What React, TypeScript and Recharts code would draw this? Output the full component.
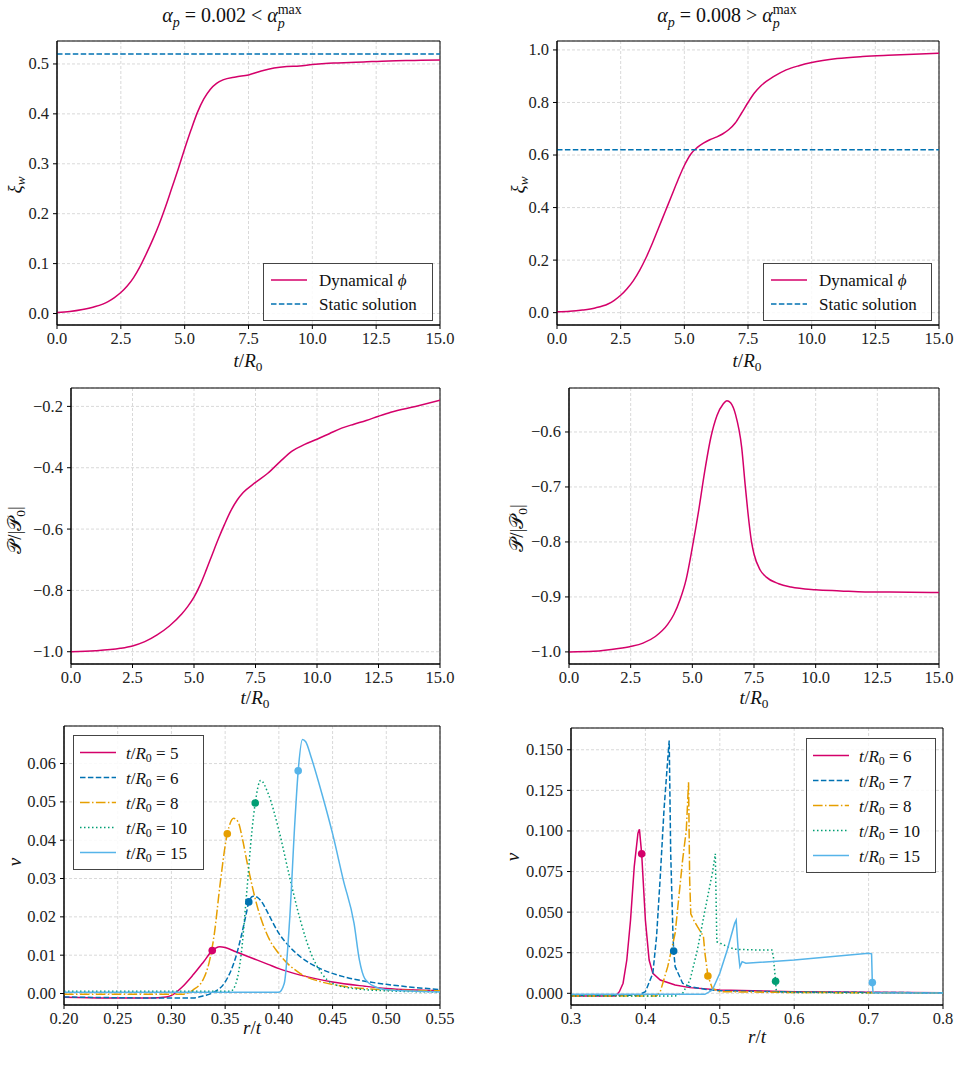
import React from 'react'
import { LineChart, Line, XAxis, YAxis, CartesianGrid, ReferenceArea, ReferenceDot } from 'recharts'

type Pt = [number, number]

// wall velocity xi_w(t), alpha_p = 0.002
const xiLow: Pt[] = [
  [0, 0.002], [0.5, 0.004], [1, 0.008], [1.5, 0.014], [2, 0.024], [2.25, 0.032], [2.5, 0.042],
  [2.75, 0.055], [3, 0.072], [3.25, 0.094], [3.5, 0.12], [3.75, 0.148], [4, 0.179],
  [4.25, 0.214], [4.5, 0.252], [4.75, 0.29], [5, 0.33], [5.25, 0.368], [5.5, 0.403],
  [5.75, 0.43], [6, 0.449], [6.25, 0.461], [6.5, 0.468], [7, 0.474], [7.5, 0.478],
  [8, 0.486], [8.5, 0.492], [9, 0.495], [9.5, 0.496], [10, 0.499], [10.5, 0.501],
  [11, 0.502], [12, 0.504], [13, 0.506], [14, 0.507], [15, 0.508],
]
const xiLowStatic = 0.52

// wall velocity xi_w(t), alpha_p = 0.008
const xiHigh: Pt[] = [
  [0, 0.003], [0.5, 0.005], [1, 0.01], [1.5, 0.018], [2, 0.033], [2.25, 0.047], [2.5, 0.066],
  [2.75, 0.091], [3, 0.122], [3.25, 0.162], [3.5, 0.21], [3.75, 0.265], [4, 0.325],
  [4.25, 0.385], [4.5, 0.445], [4.75, 0.505], [5, 0.56], [5.25, 0.603], [5.5, 0.628],
  [5.75, 0.645], [6, 0.658], [6.25, 0.668], [6.5, 0.68], [6.75, 0.697], [7, 0.722],
  [7.25, 0.76], [7.5, 0.8], [7.75, 0.836], [8, 0.863], [8.5, 0.898], [9, 0.924],
  [9.5, 0.94], [10, 0.952], [11, 0.967], [12, 0.975], [13, 0.98], [14, 0.984], [15, 0.987],
]
const xiHighStatic = 0.62

// pressure P/|P0|
const pLow: Pt[] = [
  [0, -1.0], [1, -0.997], [2, -0.989], [2.5, -0.981], [3, -0.967], [3.5, -0.945], [4, -0.916],
  [4.5, -0.877], [4.75, -0.852], [5, -0.822], [5.25, -0.782], [5.5, -0.733], [5.75, -0.681],
  [6, -0.63], [6.25, -0.583], [6.5, -0.54], [6.75, -0.506], [7, -0.481], [7.5, -0.448],
  [8, -0.418], [8.5, -0.38], [9, -0.345], [9.5, -0.324], [10, -0.307], [10.5, -0.289],
  [11, -0.271], [11.5, -0.258], [12, -0.246], [12.5, -0.232], [13, -0.219], [14, -0.2],
  [15, -0.18],
]
const pHigh: Pt[] = [
  [0, -1.0], [1, -0.999], [2, -0.994], [2.5, -0.99], [3, -0.984], [3.5, -0.972], [4, -0.95],
  [4.25, -0.932], [4.5, -0.905], [4.75, -0.868], [5, -0.81], [5.25, -0.745], [5.5, -0.672],
  [5.75, -0.61], [6, -0.57], [6.25, -0.549], [6.4, -0.543], [6.55, -0.547], [6.75, -0.568],
  [7, -0.628], [7.15, -0.7], [7.25, -0.745], [7.4, -0.8], [7.5, -0.822], [7.75, -0.851],
  [8, -0.864], [8.5, -0.876], [9, -0.882], [10, -0.887], [11, -0.889], [12, -0.891],
  [13, -0.891], [15, -0.892],
]

// fluid velocity profiles v(r/t), alpha_p = 0.002
const vLowTimes = [5, 6, 8, 10, 15]
const vLow5: Pt[] = [
  [0.2, -0.001], [0.24, -0.0012], [0.28, -0.0012], [0.295, -0.0009], [0.3, -0.0005],
  [0.31, 0.0017], [0.32, 0.0048], [0.33, 0.0083], [0.338, 0.0112], [0.345, 0.0122],
  [0.35, 0.012], [0.36, 0.0109], [0.37, 0.0098], [0.38, 0.0087], [0.39, 0.0076],
  [0.4, 0.0065], [0.42, 0.0048], [0.45, 0.003], [0.48, 0.0019], [0.5, 0.0013], [0.55, 0.0007],
]
const vLow6: Pt[] = [
  [0.2, -0.0009], [0.25, -0.0011], [0.32, -0.0012], [0.33, -0.0006], [0.34, 0.0004],
  [0.35, 0.003], [0.36, 0.0096], [0.365, 0.015], [0.37, 0.0213], [0.372, 0.0239],
  [0.376, 0.0254], [0.38, 0.0251], [0.385, 0.0235], [0.39, 0.0209], [0.4, 0.0157],
  [0.41, 0.0122], [0.42, 0.0096], [0.44, 0.0063], [0.46, 0.0044], [0.48, 0.0032],
  [0.5, 0.0024], [0.55, 0.001],
]
const vLow8: Pt[] = [
  [0.2, -0.0002], [0.31, -0.0002], [0.32, 0.0009], [0.33, 0.0039], [0.335, 0.008],
  [0.34, 0.0157], [0.345, 0.0278], [0.352, 0.0417], [0.358, 0.0457], [0.362, 0.0448],
  [0.366, 0.0405], [0.37, 0.0348], [0.38, 0.0226], [0.39, 0.0148], [0.4, 0.0104],
  [0.42, 0.0052], [0.44, 0.003], [0.46, 0.0019], [0.5, 0.001], [0.55, 0.0007],
]
const vLow10: Pt[] = [
  [0.2, 0.0006], [0.355, 0.0006], [0.36, 0.0026], [0.365, 0.0104], [0.37, 0.0261],
  [0.375, 0.0426], [0.378, 0.0497], [0.383, 0.0556], [0.39, 0.0522], [0.4, 0.0426],
  [0.41, 0.0304], [0.42, 0.0191], [0.43, 0.0104], [0.44, 0.0052], [0.45, 0.0026],
  [0.47, 0.0013], [0.5, 0.0007], [0.55, 0.0004],
]
const vLow15: Pt[] = [
  [0.2, 0.0003], [0.4, 0.0003], [0.405, 0.0026], [0.41, 0.0191], [0.415, 0.0452],
  [0.418, 0.0581], [0.422, 0.0663], [0.425, 0.0657], [0.43, 0.0617], [0.44, 0.0522],
  [0.45, 0.0417], [0.46, 0.0296], [0.47, 0.0183], [0.475, 0.0087], [0.48, 0.0039],
  [0.49, 0.0017], [0.5, 0.001], [0.55, 0.0004],
]
const vLowWall: Pt[] = [[0.338, 0.0112], [0.372, 0.0239], [0.352, 0.0417], [0.378, 0.0497], [0.418, 0.0581]]

// fluid velocity profiles v(r/t), alpha_p = 0.008
const vHighTimes = [6, 7, 8, 10, 15]
const vHigh6: Pt[] = [
  [0.3, -0.0016], [0.36, -0.0016], [0.365, 0.001], [0.37, 0.0062], [0.375, 0.0205],
  [0.38, 0.045], [0.385, 0.078], [0.39, 0.0986], [0.392, 0.101], [0.395, 0.0859],
  [0.4, 0.045], [0.405, 0.0205], [0.41, 0.0123], [0.42, 0.0082], [0.44, 0.0051],
  [0.46, 0.0035], [0.5, 0.002], [0.6, 0.001], [0.8, 0.0003],
]
const vHigh7: Pt[] = [
  [0.3, -0.0012], [0.39, -0.0012], [0.4, 0.001], [0.41, 0.0123], [0.415, 0.035],
  [0.42, 0.072], [0.425, 0.113], [0.43, 0.144], [0.432, 0.1557], [0.434, 0.0863],
  [0.437, 0.037], [0.438, 0.026], [0.44, 0.0164], [0.45, 0.0062], [0.46, 0.0041],
  [0.48, 0.0025], [0.5, 0.0016], [0.6, 0.0008], [0.8, 0.0003],
]
const vHigh8: Pt[] = [
  [0.3, -0.0016], [0.415, -0.0016], [0.42, 0.001], [0.43, 0.0164], [0.44, 0.037],
  [0.45, 0.082], [0.455, 0.1007], [0.458, 0.13], [0.4595, 0.07], [0.461, 0.049],
  [0.465, 0.045], [0.47, 0.041], [0.478, 0.035], [0.48, 0.0247], [0.484, 0.0107],
  [0.49, 0.003], [0.5, 0.001], [0.6, 0.0005], [0.8, 0.0002],
]
const vHigh10: Pt[] = [
  [0.3, -0.0016], [0.44, -0.0016], [0.45, 0], [0.46, 0.0082], [0.47, 0.027],
  [0.48, 0.051], [0.49, 0.074], [0.494, 0.086], [0.496, 0.0318], [0.5, 0.031],
  [0.51, 0.0288], [0.52, 0.0271], [0.55, 0.0267], [0.57, 0.0267], [0.572, 0.0226],
  [0.575, 0.0074], [0.576, 0.001], [0.6, 0.0005], [0.8, 0.0002],
]
const vHigh15: Pt[] = [
  [0.3, -0.0006], [0.48, -0.0006], [0.49, 0.002], [0.5, 0.0123], [0.51, 0.0267],
  [0.515, 0.035], [0.52, 0.0431], [0.522, 0.045], [0.525, 0.0247], [0.527, 0.0164],
  [0.53, 0.0195], [0.535, 0.0185], [0.6, 0.0205], [0.7, 0.0247], [0.704, 0.0243],
  [0.705, 0.0066], [0.706, 0.0004], [0.8, 0.0002],
]
const vHighWall: Pt[] = [[0.395, 0.0859], [0.438, 0.026], [0.484, 0.0107], [0.575, 0.0074], [0.705, 0.0066]]

// axis ticks
const tTicks = [0, 2.5, 5, 7.5, 10, 12.5, 15]
const xiLowTicks = [0, 0.1, 0.2, 0.3, 0.4, 0.5]
const xiHighTicks = [0, 0.2, 0.4, 0.6, 0.8, 1.0]
const pLowTicks = [-1.0, -0.8, -0.6, -0.4, -0.2]
const pHighTicks = [-1.0, -0.9, -0.8, -0.7, -0.6]
const rLowTicks = [0.2, 0.25, 0.3, 0.35, 0.4, 0.45, 0.5, 0.55]
const vLowTicks = [0, 0.01, 0.02, 0.03, 0.04, 0.05, 0.06]
const rHighTicks = [0.3, 0.4, 0.5, 0.6, 0.7, 0.8]
const vHighTicks = [0, 0.025, 0.05, 0.075, 0.1, 0.125, 0.15]

const FONT = "'Liberation Serif', 'DejaVu Serif', serif"
const CRIMSON = '#d4006a'
const BLUE = '#0072b2'
const ORANGE = '#e69f00'
const GREEN = '#009e73'
const SKY = '#56b4e9'

const SOLID = undefined
const DASHED = '5.5 2.4'
const DASHDOT = '9.6 2.4 1.5 2.4'
const DOTTED = '1.5 2.5'

const profileStyles = [
  { color: CRIMSON, dash: SOLID },
  { color: BLUE, dash: DASHED },
  { color: ORANGE, dash: DASHDOT },
  { color: GREEN, dash: DOTTED },
  { color: SKY, dash: SOLID },
]

interface Series {
  pts: Pt[]
  color: string
  dash?: string
}

interface PanelProps {
  box: [number, number, number, number]
  xDomain: [number, number]
  yDomain: [number, number]
  xTicks: number[]
  yTicks: number[]
  xDigits: number
  yDigits: number
  series: Series[]
  curve: 'monotoneX' | 'linear'
  markers?: Pt[]
}

const Y_W = 52
const X_H = 32
const PAD = 4
const PAD_R = 20

const fmt = (d: number) => (v: number) => v.toFixed(d).replace('-', '\u2212')
const toRows = (pts: Pt[]) => pts.map(([x, y]) => ({ x, y }))

// serif tick text; dy mirrors recharts' own anchoring
const tickRenderer = (digits: number, dy: string) => (props: any) => (
  <text
    x={props.x}
    y={props.y}
    dy={dy}
    textAnchor={props.textAnchor}
    fill="#222"
    fontSize={16.5}
    fontFamily={FONT}
  >
    {fmt(digits)(props.payload.value)}
  </text>
)

function Panel({ box, xDomain, yDomain, xTicks, yTicks, xDigits, yDigits, series, curve, markers }: PanelProps) {
  const [l, t, r, b] = box
  const width = Y_W + (r - l) + PAD_R
  const height = PAD + (b - t) + X_H
  return (
    <div style={{ position: 'absolute', left: l - Y_W, top: t - PAD }}>
      <LineChart width={width} height={height} margin={{ top: PAD, right: PAD_R, left: 0, bottom: 0 }}>
        <CartesianGrid stroke="#cfcfcf" strokeDasharray="3 2" strokeWidth={0.8} />
        <XAxis
          type="number"
          dataKey="x"
          domain={xDomain}
          ticks={xTicks}
          allowDataOverflow
          height={X_H}
          tick={tickRenderer(xDigits, '0.75em')}
          tickSize={4}
          tickMargin={3}
          stroke="#000"
        />
        <YAxis
          type="number"
          dataKey="y"
          domain={yDomain}
          ticks={yTicks}
          allowDataOverflow
          width={Y_W}
          tick={tickRenderer(yDigits, '0.33em')}
          tickSize={4}
          tickMargin={4}
          stroke="#000"
        />
        {series.map((s, i) => (
          <Line
            key={i}
            data={toRows(s.pts)}
            dataKey="y"
            type={curve}
            stroke={s.color}
            strokeWidth={1.5}
            strokeDasharray={s.dash}
            dot={false}
            activeDot={false}
            isAnimationActive={false}
          />
        ))}
        {markers?.map((m, i) => (
          <ReferenceDot key={i} x={m[0]} y={m[1]} r={3.8} fill={series[i].color} stroke="none" />
        ))}
        <ReferenceArea x1={xDomain[0]} x2={xDomain[1]} y1={yDomain[0]} y2={yDomain[1]} fill="none" stroke="#000" strokeWidth={1} />
      </LineChart>
    </div>
  )
}

// absolutely placed text, centred on (x, y)
function Txt({ x, y, size = 19, rotate = 0, children }: { x: number; y: number; size?: number; rotate?: number; children: React.ReactNode }) {
  return (
    <div
      style={{
        position: 'absolute',
        left: x,
        top: y,
        transform: `translate(-50%, -50%) rotate(${rotate}deg)`,
        fontFamily: FONT,
        fontSize: size,
        color: '#111',
        whiteSpace: 'nowrap',
        lineHeight: 1.2,
      }}
    >
      {children}
    </div>
  )
}

const Sub = ({ children }: { children: React.ReactNode }) => (
  <sub style={{ fontSize: '0.7em', lineHeight: 0, verticalAlign: '-0.3em' }}>{children}</sub>
)

// alpha with a stacked "max" superscript over a "p" subscript
const AlphaMax = () => (
  <span>
    <i>α</i>
    <span style={{ display: 'inline-block', verticalAlign: '-0.4em', lineHeight: 1, fontSize: '0.7em', textAlign: 'left' }}>
      <span style={{ display: 'block' }}>max</span>
      <i style={{ display: 'block' }}>p</i>
    </span>
  </span>
)

const TOverR = () => (
  <span>
    <i>t</i>/<i>R</i>
    <Sub>0</Sub>
  </span>
)

const PLabel = () => (
  <span>
    𝒫/|𝒫
    <Sub>0</Sub>|
  </span>
)

interface LegendRow {
  label: React.ReactNode
  color: string
  dash?: string
}

function LegendBox({ left, top, width, rows, rowH, lineX, textX }: { left: number; top: number; width: number; rows: LegendRow[]; rowH: number; lineX: number; textX: number }) {
  return (
    <div
      style={{
        position: 'absolute',
        left,
        top,
        width,
        padding: '4px 0',
        border: '1px solid #444',
        background: 'rgba(255,255,255,0.85)',
        fontFamily: FONT,
        fontSize: 17,
        color: '#111',
      }}
    >
      {rows.map((row, i) => (
        <div key={i} style={{ position: 'relative', height: rowH }}>
          <svg width={36} height={rowH} style={{ position: 'absolute', left: lineX, top: 0 }}>
            <line x1={0} x2={36} y1={rowH / 2} y2={rowH / 2} stroke={row.color} strokeWidth={1.5} strokeDasharray={row.dash} />
          </svg>
          <span style={{ position: 'absolute', left: textX, top: rowH / 2, transform: 'translateY(-50%)', whiteSpace: 'nowrap', lineHeight: 1 }}>
            {row.label}
          </span>
        </div>
      ))}
    </div>
  )
}

const wallRows = [
  { label: <span>Dynamical <i>ϕ</i></span>, color: CRIMSON, dash: SOLID },
  { label: <span>Static solution</span>, color: BLUE, dash: DASHED },
]

const timeRows = (times: number[]) =>
  times.map((tv, i) => ({
    label: (
      <span>
        <TOverR /> = {tv}
      </span>
    ),
    color: profileStyles[i].color,
    dash: profileStyles[i].dash,
  }))

export default function App() {
  const staticLow: Pt[] = [[0, xiLowStatic], [15, xiLowStatic]]
  const staticHigh: Pt[] = [[0, xiHighStatic], [15, xiHighStatic]]
  const lowProfiles = [vLow5, vLow6, vLow8, vLow10, vLow15]
  const highProfiles = [vHigh6, vHigh7, vHigh8, vHigh10, vHigh15]

  return (
    <div style={{ position: 'absolute', left: 0, top: 0, width: 960, height: 1090, background: '#fff', overflow: 'hidden' }}>
      <Txt x={232} y={17} size={20}>
        <i>α</i>
        <Sub>
          <i>p</i>
        </Sub>{' '}
        = 0.002 &lt; <AlphaMax />
      </Txt>
      <Txt x={727} y={17} size={20}>
        <i>α</i>
        <Sub>
          <i>p</i>
        </Sub>{' '}
        = 0.008 &gt; <AlphaMax />
      </Txt>

      <Panel
        box={[57, 41, 440, 325]}
        xDomain={[0, 15]}
        yDomain={[-0.023, 0.546]}
        xTicks={tTicks}
        yTicks={xiLowTicks}
        xDigits={1}
        yDigits={1}
        curve="monotoneX"
        series={[
          { pts: xiLow, color: CRIMSON },
          { pts: staticLow, color: BLUE, dash: DASHED },
        ]}
      />
      <Panel
        box={[557, 41, 939, 325]}
        xDomain={[0, 15]}
        yDomain={[-0.047, 1.034]}
        xTicks={tTicks}
        yTicks={xiHighTicks}
        xDigits={1}
        yDigits={1}
        curve="monotoneX"
        series={[
          { pts: xiHigh, color: CRIMSON },
          { pts: staticHigh, color: BLUE, dash: DASHED },
        ]}
      />
      <Panel
        box={[71, 388, 440, 664]}
        xDomain={[0, 15]}
        yDomain={[-1.04, -0.14]}
        xTicks={tTicks}
        yTicks={pLowTicks}
        xDigits={1}
        yDigits={1}
        curve="monotoneX"
        series={[{ pts: pLow, color: CRIMSON }]}
      />
      <Panel
        box={[569, 388, 939, 664]}
        xDomain={[0, 15]}
        yDomain={[-1.022, -0.52]}
        xTicks={tTicks}
        yTicks={pHighTicks}
        xDigits={1}
        yDigits={1}
        curve="monotoneX"
        series={[{ pts: pHigh, color: CRIMSON }]}
      />
      <Panel
        box={[64, 726, 440, 1005]}
        xDomain={[0.2, 0.55]}
        yDomain={[-0.003, 0.0698]}
        xTicks={rLowTicks}
        yTicks={vLowTicks}
        xDigits={2}
        yDigits={2}
        curve="monotoneX"
        series={lowProfiles.map((pts, i) => ({ pts, ...profileStyles[i] }))}
        markers={vLowWall}
      />
      <Panel
        box={[571, 728, 943, 1005]}
        xDomain={[0.3, 0.8]}
        yDomain={[-0.0072, 0.1634]}
        xTicks={rHighTicks}
        yTicks={vHighTicks}
        xDigits={1}
        yDigits={3}
        curve="linear"
        series={highProfiles.map((pts, i) => ({ pts, ...profileStyles[i] }))}
        markers={vHighWall}
      />

      <LegendBox left={263} top={263} width={168} rows={wallRows} rowH={24} lineX={7} textX={55} />
      <LegendBox left={763} top={263} width={167} rows={wallRows} rowH={24} lineX={7} textX={55} />
      <LegendBox left={73} top={735} width={129} rows={timeRows(vLowTimes)} rowH={25} lineX={6} textX={52} />
      <LegendBox left={806} top={738} width={128} rows={timeRows(vHighTimes)} rowH={25} lineX={6} textX={52} />

      <Txt x={248} y={361}>
        <TOverR />
      </Txt>
      <Txt x={747} y={361}>
        <TOverR />
      </Txt>
      <Txt x={255} y={698}>
        <TOverR />
      </Txt>
      <Txt x={754} y={698}>
        <TOverR />
      </Txt>
      <Txt x={252} y={1028}>
        <i>r</i>/<i>t</i>
      </Txt>
      <Txt x={757} y={1037}>
        <i>r</i>/<i>t</i>
      </Txt>

      <Txt x={15} y={185} rotate={-90}>
        <i>ξ</i>
        <Sub>
          <i>w</i>
        </Sub>
      </Txt>
      <Txt x={518} y={185} rotate={-90}>
        <i>ξ</i>
        <Sub>
          <i>w</i>
        </Sub>
      </Txt>
      <Txt x={15} y={530} rotate={-90}>
        <PLabel />
      </Txt>
      <Txt x={517} y={528} rotate={-90}>
        <PLabel />
      </Txt>
      <Txt x={15} y={862} rotate={-90}>
        <i>v</i>
      </Txt>
      <Txt x={513} y={857} rotate={-90}>
        <i>v</i>
      </Txt>
    </div>
  )
}
